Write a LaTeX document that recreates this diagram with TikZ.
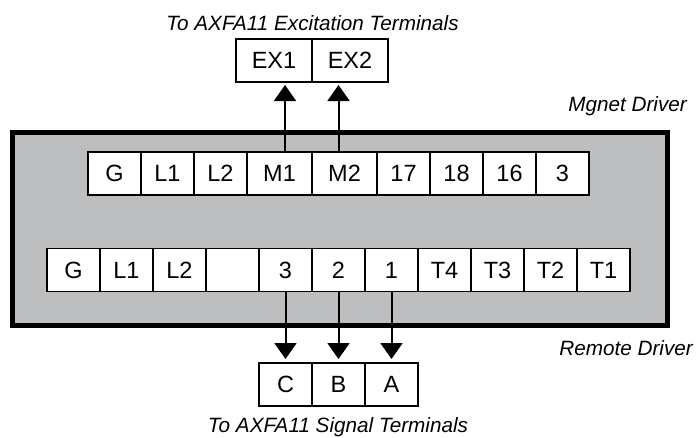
\documentclass[tikz,border=0pt]{standalone}
\usepackage{fontspec}
\setmainfont{Liberation Sans}
\usetikzlibrary{positioning,arrows.meta}
\definecolor{gris}{RGB}{188,190,192}
\tikzset{
  borne/.style={draw, fill=white, line width=1.8pt, minimum width=53pt, minimum height=43pt,
    inner sep=0pt, outer sep=0pt, font=\fontsize{23.5}{28}\selectfont},
  borneancho/.style={borne, minimum width=65pt},
  borneex/.style={borne, minimum width=76pt},
  etiqueta/.style={inner sep=0pt, font=\fontsize{20.7}{24}\selectfont\itshape},
  flecha/.style={line width=2pt, -{Triangle[width=22pt,length=16pt]}}
}
\begin{document}
\begin{tikzpicture}[x=1pt,y=-1pt]
        \useasboundingbox (0,0) rectangle (699,437);
        % Caja del driver
        \draw[line width=5pt, fill=gris] (12,132.5) rectangle (667.5,325.5);
        % Bornes de excitacion
        \node[borneex] (ex1) at (274,60.5) {EX1};
        \node[borneex, right=0pt of ex1] (ex2) {EX2};
        % Bornes superiores (Mgnet Driver)
        \node[borne] (mg) at (114.5,173.5) {G};
        \node[borne, right=0pt of mg] (ml1) {L1};
        \node[borne, right=0pt of ml1] (ml2) {L2};
        \node[borneancho, right=0pt of ml2] (mm1) {M1};
        \node[borneancho, right=0pt of mm1] (mm2) {M2};
        \node[borne, right=0pt of mm2] (m17) {17};
        \node[borne, right=0pt of m17] (m18) {18};
        \node[borne, right=0pt of m18] (m16) {16};
        \node[borne, right=0pt of m16] (m3) {3};
        % Bornes inferiores (Remote Driver)
        \node[borne] (rg) at (73.5,270) {G};
        \node[borne, right=0pt of rg] (rl1) {L1};
        \node[borne, right=0pt of rl1] (rl2) {L2};
        \node[borne, right=0pt of rl2] (rvac) {};
        \node[borne, right=0pt of rvac] (r3) {3};
        \node[borne, right=0pt of r3] (r2) {2};
        \node[borne, right=0pt of r2] (r1) {1};
        \node[borne, right=0pt of r1] (rt4) {T4};
        \node[borne, right=0pt of rt4] (rt3) {T3};
        \node[borne, right=0pt of rt3] (rt2) {T2};
        \node[borne, right=0pt of rt2] (rt1) {T1};
        % Bornes de senal
        \node[borne, below=71.5pt of r3] (sc) {C};
        \node[borne, right=0pt of sc] (sb) {B};
        \node[borne, right=0pt of sb] (sa) {A};
        % Flechas
        \draw[flecha, shorten >=3pt] ([xshift=5.5pt]mm1.north) -- ([xshift=5.5pt]mm1.north |- ex1.south);
        \draw[flecha, shorten >=3pt] ([xshift=-6pt]mm2.north) -- ([xshift=-6pt]mm2.north |- ex2.south);
        \draw[flecha, shorten >=4pt] (r3.south) -- (r3.south |- sc.north);
        \draw[flecha, shorten >=4pt] (r2.south) -- (r2.south |- sb.north);
        \draw[flecha, shorten >=4pt] (r1.south) -- (r1.south |- sa.north);
        % Textos
        \node[etiqueta, anchor=base] (tex) at (312.5,30) {To AXFA11 Excitation Terminals};
        \node[etiqueta, anchor=base east] (tmag) at (687,111.5) {Mgnet Driver};
        \node[etiqueta, anchor=base east] (trem) at (693,355) {Remote Driver};
        \node[etiqueta, anchor=base] (tsig) at (338,432.5) {To AXFA11 Signal Terminals};
\end{tikzpicture}
\end{document}
